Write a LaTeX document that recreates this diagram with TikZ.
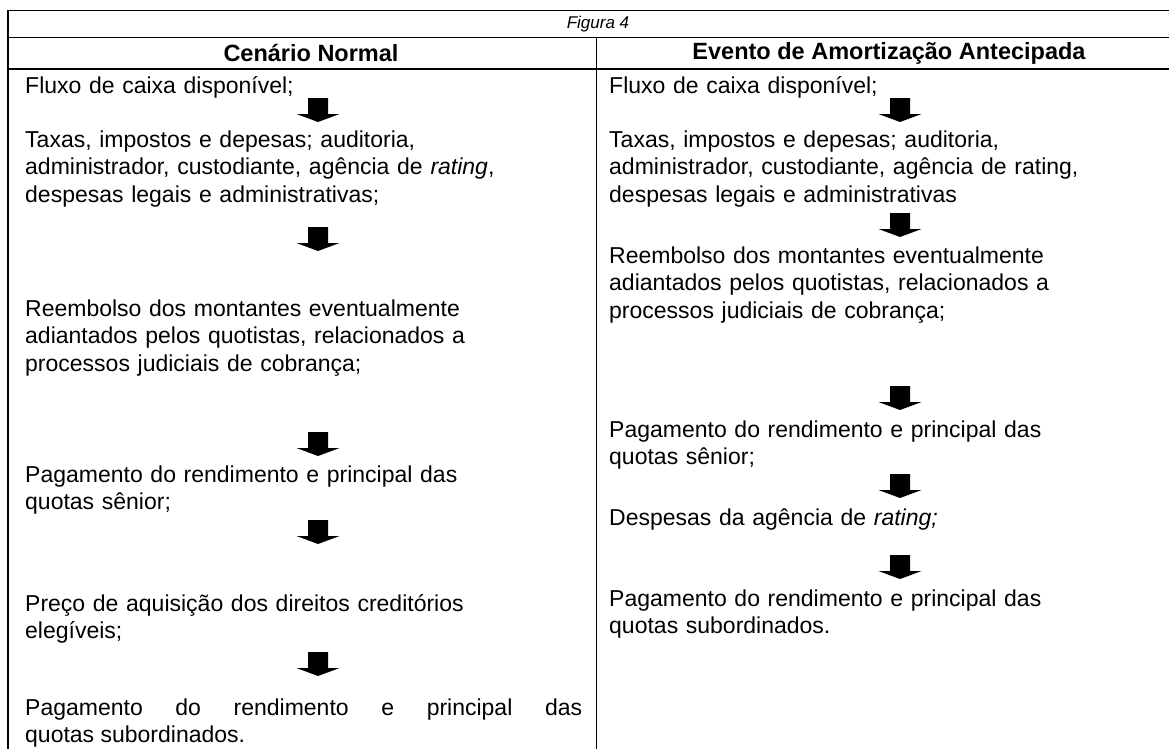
\documentclass[tikz,border=0pt]{standalone}
\usepackage{fontspec}
\setmainfont{Liberation Sans}

\tikzset{
  txt/.style={font=\fontsize{23}{27.5}\selectfont, inner sep=0pt, align=left, text width=560pt, anchor=base west},
  hdr/.style={font=\fontsize{23.5}{27}\selectfont\bfseries, inner sep=0pt},
  rule/.style={line width=1.4pt},
  blockarrow/.pic={\fill (-10,-12) -- (10,-12) -- (10,4) -- (21.5,4) -- (0,12) -- (-21.5,4) -- (-10,4) -- cycle;}
}

\begin{document}
\begin{tikzpicture}[x=1pt, y=-1pt]
\useasboundingbox (0,0) rectangle (1169,748);

% Draw the table lines
\draw[rule] (8,10.5) -- (1175,10.5);
\draw[rule] (8,37.5) -- (1175,37.5);
\draw[rule] (8,69) -- (1175,69);
\draw[rule] (8,9.8) -- (8,755);
\draw[rule] (596.5,37.5) -- (596.5,755);

% Title and headings
\node[font=\fontsize{17}{20}\selectfont\itshape, inner sep=0pt] (fig) at (598,24) {Figura 4};
\node[hdr] (hl) at (311,53) {Cenário Normal};
\node[hdr] (hr) at (889,53) {Evento de Amortização Antecipada};

% Left column: normal scenario
\node[txt] (l1) at (25,93) {Fluxo de caixa disponível;};
\pic (la1) at (318,110) {blockarrow};
\node[txt] (l2) at (25,147) {Taxas, impostos e depesas; auditoria,\\ administrador, custodiante, agência de \textit{rating},\\ despesas legais e administrativas;};
\pic (la2) at (318,239) {blockarrow};
\node[txt] (l3) at (25,316) {Reembolso dos montantes eventualmente\\ adiantados pelos quotistas, relacionados a\\ processos judiciais de cobrança;};
\pic (la3) at (318,444) {blockarrow};
\node[txt] (l4) at (25,482) {Pagamento do rendimento e principal das\\ quotas sênior;};
\pic (la4) at (318,532) {blockarrow};
\node[txt] (l5) at (25,611) {Preço de aquisição dos direitos creditórios\\ elegíveis;};
\pic (la5) at (318,664) {blockarrow};
\node[txt, align=justify, text width=557pt] (l6) at (25,715) {Pagamento do rendimento e principal das\linebreak quotas subordinados.};

% Right column: early amortization event
\node[txt] (r1) at (609,93) {Fluxo de caixa disponível;};
\pic (ra1) at (900,110) {blockarrow};
\node[txt] (r2) at (609,147) {Taxas, impostos e depesas; auditoria,\\ administrador, custodiante, agência de rating,\\ despesas legais e administrativas};
\pic (ra2) at (900,225) {blockarrow};
\node[txt] (r3) at (609,263) {Reembolso dos montantes eventualmente\\ adiantados pelos quotistas, relacionados a\\ processos judiciais de cobrança;};
\pic (ra3) at (900,398) {blockarrow};
\node[txt] (r4) at (609,437) {Pagamento do rendimento e principal das\\ quotas sênior;};
\pic (ra4) at (900,486) {blockarrow};
\node[txt] (r5) at (609,525) {Despesas da agência de \textit{rating;}};
\pic (ra5) at (900,567) {blockarrow};
\node[txt] (r6) at (609,606) {Pagamento do rendimento e principal das\\ quotas subordinados.};
\end{tikzpicture}
\end{document}
